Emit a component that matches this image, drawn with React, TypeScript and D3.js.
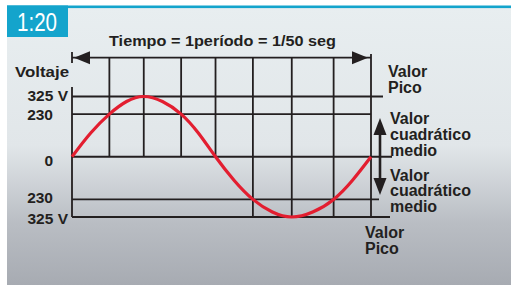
import * as d3 from 'd3';

// time axis (ms) over one period, and voltage levels
const timeDomain = [0, 20];
const levels = [-325, -230, 0, 230, 325];
const levelLabels = ['325 V', '230', '0', '230', '325 V'];

// vertical grid lines (ms): where the wave meets ±230 / peaks / zero
const upperGrid = [2.5, 4.8, 7.3, 9.6, 12.1, 14.7, 17.5];
const lowerGrid = [12.1, 14.7, 17.5];

// the sine wave, read point by point
const waveT = [0, 1.25, 2.5, 3.65, 4.8, 6.05, 7.3, 8.45, 9.6, 10.85, 12.1, 13.4, 14.7, 16.1, 17.5, 18.75, 20];
const waveV = [0, 128, 230, 298, 325, 298, 230, 128, 0, -128, -230, -298, -325, -298, -230, -128, 0];

const title = 'Tiempo = 1período = 1/50 seg';
const badge = '1:20';
const yTitle = 'Voltaje';
const peakLabel = ['Valor', 'Pico'];
const rmsLabel = ['Valor', 'cuadrático', 'medio'];

const W = 511;
const H = 285;
const ink = '#231f20';
const red = '#e31e30';
const font = '"Liberation Sans", Arial, Helvetica, sans-serif';

export default function App() {
  const x = d3.scaleLinear().domain(timeDomain).range([72, 371]);
  const y = d3.scaleLinear().domain([-325, 325]).range([217, 96.5]);

  const x0 = x(timeDomain[0]);
  const x1 = x(timeDomain[1]);
  const yTop = 57.7;

  const wave = d3.line<number>()
    .x((_, i) => x(waveT[i]))
    .y(d => y(d))
    .curve(d3.curveNatural);

  // how far each horizontal level runs past the right edge
  const lineEnds: Record<number, number> = { 325: 383, 230: x1, 0: 392, [-230]: 379, [-325]: 390 };

  const arrowX = 380;
  const aTop = 118;
  const aBot = 195;

  return (
    <svg width={W} height={H} style={{ position: 'absolute', left: 0, top: 0 }} fontFamily={font}>
      <defs>
        <linearGradient id="panel" x1="0" y1="0" x2="0" y2="1">
          <stop offset="0" stopColor="#e8eef0" />
          <stop offset="0.5" stopColor="#e1e6e9" />
          <stop offset="0.78" stopColor="#b9bdc3" />
          <stop offset="1" stopColor="#a7abb2" />
        </linearGradient>
      </defs>
      <rect x={0} y={0} width={W} height={H} fill="#fff" />
      <rect x={7} y={7} width={W - 7} height={H - 7} fill="url(#panel)" />
      <rect x={7} y={5.5} width={W - 7} height={2.6} fill="#14a4cc" />
      <rect x={7} y={5.5} width={61} height={31.5} fill="#14a4cc" />
      <text x={17} y={31} fill="#fff" fontSize={25} textLength={40} lengthAdjust="spacingAndGlyphs">{badge}</text>

      <text x={(x0 + x1) / 2 + 1} y={46} textAnchor="middle" fontSize={15.5} fontWeight="bold" fill={ink}
        textLength={227} lengthAdjust="spacingAndGlyphs">{title}</text>

      {/* time arrow */}
      <g stroke={ink} strokeWidth={1.8}>
        <line x1={x0} x2={x1} y1={yTop} y2={yTop} />
        <line x1={x0} x2={x0} y1={52} y2={63} />
        <line x1={x1} x2={x1} y1={54} y2={y(-325)} />
        <line x1={x0} x2={x0} y1={87} y2={y(-325)} />
      </g>
      <path d={`M${x0 + 2},${yTop} L${x0 + 18},${yTop - 6.5} L${x0 + 18},${yTop + 6.5}Z`} fill={ink} />
      <path d={`M${x1 - 3},${yTop} L${x1 - 19},${yTop - 6.5} L${x1 - 19},${yTop + 6.5}Z`} fill={ink} />

      {/* grid */}
      <g stroke={ink} strokeWidth={1.8}>
        {upperGrid.map(t => <line key={'u' + t} x1={x(t)} x2={x(t)} y1={yTop} y2={y(0)} />)}
        {lowerGrid.map(t => <line key={'l' + t} x1={x(t)} x2={x(t)} y1={y(0)} y2={y(-325)} />)}
        {levels.map(v => <line key={'h' + v} x1={x0} x2={lineEnds[v]} y1={y(v)} y2={y(v)} />)}
      </g>

      <path d={wave(waveV) || ''} fill="none" stroke={red} strokeWidth={3.2} strokeLinecap="butt" />

      {/* y labels */}
      <g fontSize={15.5} fontWeight="bold" fill={ink}>
        <text x={15} y={77} textLength={54} lengthAdjust="spacingAndGlyphs">{yTitle}</text>
        {levels.map((v, i) => {
          const lab = levelLabels[i];
          const hasV = lab.endsWith('V');
          const dy = v === 0 ? 9 : v === 325 ? 4 : v === 230 ? 6 : v === -230 ? 4 : 7;
          return (
            <text key={'yl' + i} x={hasV ? 68 : 53} y={y(v) + dy} textAnchor="end">{lab}</text>
          );
        })}
      </g>

      {/* right annotations */}
      <g fontSize={16} fontWeight="bold" fill={ink}>
        {peakLabel.map((s, i) => <text key={'p' + i} x={388} y={76.5 + i * 16}>{s}</text>)}
        {rmsLabel.map((s, i) => <text key={'r' + i} x={390} y={124 + i * 15.8}>{s}</text>)}
        {rmsLabel.map((s, i) => <text key={'s' + i} x={390} y={180.5 + i * 15.8}>{s}</text>)}
        {peakLabel.map((s, i) => <text key={'q' + i} x={365} y={238 + i * 16}>{s}</text>)}
      </g>

      {/* double arrow */}
      <line x1={arrowX} x2={arrowX} y1={aTop + 10} y2={aBot - 10} stroke={ink} strokeWidth={2.6} />
      <path d={`M${arrowX},${aTop} L${arrowX - 6.5},${aTop + 17} L${arrowX + 6.5},${aTop + 17}Z`} fill={ink} />
      <path d={`M${arrowX},${aBot} L${arrowX - 6.5},${aBot - 17} L${arrowX + 6.5},${aBot - 17}Z`} fill={ink} />
    </svg>
  );
}
